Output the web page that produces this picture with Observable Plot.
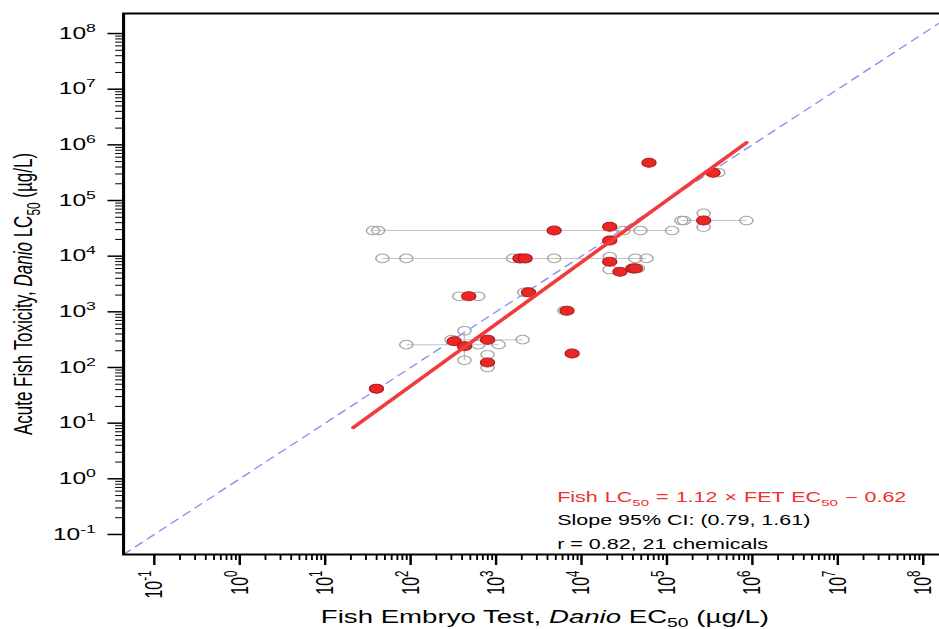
<!DOCTYPE html>
<html><head><meta charset="utf-8">
<script src="https://cdn.jsdelivr.net/npm/d3@7"></script>
<script src="https://cdn.jsdelivr.net/npm/@observablehq/plot@0.6"></script>
<style>
html,body{margin:0;padding:0;background:#fff;overflow:hidden;}
#wrap{width:939px;height:629px;overflow:hidden;position:relative;}
#wrap svg{display:block;transform:scaleX(1.535);transform-origin:0 0;max-width:none !important;}
</style></head><body><div id="wrap"></div>
<script>
// ---- data, log10 of µg/L ----
// chemical means (red): FET EC50 and fish LC50
const fetEC50Log  = [1.60, 2.51, 2.63, 2.90, 2.90, 2.68, 3.38, 3.83, 3.89, 3.28, 3.34, 3.68, 4.33, 4.33, 4.33, 4.45, 4.60, 4.63, 4.79, 5.54, 5.43];
const fishLC50Log = [1.62, 2.47, 2.38, 2.50, 2.09, 3.28, 3.35, 3.02, 2.25, 3.96, 3.96, 4.46, 4.53, 4.28, 3.90, 3.72, 3.78, 3.78, 5.68, 5.50, 4.64];
// individual test values (grey open circles)
const indivXLog = [1.56, 1.62, 4.49, 4.69, 5.06,  1.67, 1.95, 3.20, 3.68, 4.33, 4.63, 4.76, 4.33,  5.17, 5.20, 5.93, 5.43, 5.43,  1.95, 2.79, 3.03,  2.48, 3.31,  2.63, 2.63, 2.90, 2.90,  2.57, 2.79, 3.33, 3.80, 5.60, 4.66];
const indivYLog = [4.46, 4.46, 4.46, 4.46, 4.46,  3.96, 3.96, 3.96, 3.96, 3.99, 3.96, 3.96, 3.76,  4.64, 4.64, 4.64, 4.77, 4.52,  2.41, 2.41, 2.41,  2.50, 2.50,  2.66, 2.13, 2.23, 2.00,  3.28, 3.28, 3.35, 3.02, 5.50, 3.78];
// ranges (grey segments)
const rangeX1Log = [1.56, 1.67, 5.17, 1.95, 2.48, 2.63];
const rangeX2Log = [5.06, 4.76, 5.93, 3.03, 3.31, 2.63];
const rangeY1Log = [4.46, 3.96, 4.64, 2.41, 2.50, 2.13];
const rangeY2Log = [4.46, 3.96, 4.64, 2.41, 2.50, 2.66];
// regression line end points
const fitXLog = [1.33, 5.93];
const fitYLog = [0.92, 6.04];
// axis limits and ticks
const axisLimitsLog = [-1.36, 8.36];
const majorExponents = [-1, 0, 1, 2, 3, 4, 5, 6, 7, 8];
const minorMultipliers = [2, 3, 4, 5, 6, 7, 8, 9];
// texts
const xTitleParts = [["Fish Embryo Test, ", ""], ["Danio", "i"], [" EC", ""], ["50", "sub"], [" (µg/L)", ""]];
const yTitleParts = [["Acute Fish Toxicity, ", ""], ["Danio", "i"], [" LC", ""], ["50", "sub"], [" (µg/L)", ""]];
const eqnParts = [["Fish LC", ""], ["50", "sub"], [" = 1.12 × FET EC", ""], ["50", "sub"], [" − 0.62", ""]];
const ciText = "Slope 95% CI: (0.79, 1.61)";
const rText = "r = 0.82, 21 chemicals";

// ---- build tables ----
const P = v => Math.pow(10, v);
const means = fetEC50Log.map((x, i) => ({x: P(x), y: P(fishLC50Log[i])}));
const indiv = indivXLog.map((x, i) => ({x: P(x), y: P(indivYLog[i])}));
const ranges = rangeX1Log.map((x, i) => ({x1: P(x), x2: P(rangeX2Log[i]), y1: P(rangeY1Log[i]), y2: P(rangeY2Log[i])}));
const fit = fitXLog.map((x, i) => ({x: P(x), y: P(fitYLog[i])}));
const lim = axisLimitsLog.map(P);
const majorTicks = majorExponents.map(P);
const minorTicks = [];
majorExponents.slice(0, -1).forEach(e => minorMultipliers.forEach(m => minorTicks.push(m * P(e))));
const expFmt = d => String(Math.round(Math.log10(d)));

const FONT = "'Liberation Sans', Arial, Helvetica, sans-serif";
const svg = Plot.plot({
  width: 626, height: 629,
  marginLeft: 80, marginTop: 13, marginBottom: 75, marginRight: 5,
  style: {fontFamily: FONT, background: "#fff", color: "#000"},
  x: {type: "log", domain: lim, axis: null},
  y: {type: "log", domain: lim, axis: null},
  marks: [
    Plot.line(lim, {x: d => d, y: d => d, stroke: "#9090f4", strokeWidth: 1.2, strokeDasharray: "6,5", clip: true}),
    Plot.link(ranges, {x1: "x1", x2: "x2", y1: "y1", y2: "y2", stroke: "#c4c4c4", strokeWidth: 1}),
    Plot.dot(indiv, {x: "x", y: "y", r: 4.3, stroke: "#a6a6a6", strokeWidth: 1, fill: "none"}),
    Plot.dot(means, {x: "x", y: "y", r: 4.6, fill: "#ea2626", stroke: "#a51a1a", strokeWidth: 0.8}),
    Plot.line(fit, {x: "x", y: "y", stroke: "#f03c3c", strokeWidth: 3}),
    Plot.axisY({ticks: minorTicks, tickSize: 5, tickFormat: () => "", label: null, strokeWidth: 1}),
    Plot.axisY({ticks: majorTicks, tickSize: 10, tickPadding: 8, tickFormat: expFmt, fontSize: 16, label: null, strokeWidth: 1.5}),
    Plot.axisX({ticks: minorTicks, tickSize: 6, tickFormat: () => "", label: null, strokeWidth: 1.2}),
    Plot.axisX({ticks: majorTicks, tickSize: 11, tickPadding: 5, tickRotate: -90, tickFormat: expFmt, fontSize: 16, label: null, strokeWidth: 1.6}),
    Plot.frame({stroke: "#000", strokeWidth: 2})
  ]
});
document.getElementById("wrap").appendChild(svg);

const NS = "http://www.w3.org/2000/svg";
// superscript exponents on tick labels
svg.querySelectorAll('g[aria-label="y-axis tick label"] text, g[aria-label="x-axis tick label"] text').forEach(t => {
  const s = t.textContent;
  if (!s) return;
  t.textContent = "";
  const a = document.createElementNS(NS, "tspan");
  a.textContent = "10";
  t.appendChild(a);
  const b = document.createElementNS(NS, "tspan");
  b.setAttribute("dy", "-7");
  b.setAttribute("style", "font-size:72%");
  b.textContent = s.replace("−", "-");
  t.appendChild(b);
});

function rich(sel, parts, fs, subShift) {
  let shifted = 0;
  parts.forEach(([txt, kind]) => {
    const ts = sel.append("tspan").text(txt);
    if (kind === "i") ts.attr("font-style", "italic");
    if (kind === "sub") {
      ts.attr("font-size", fs * 0.7).attr("dy", fs * subShift);
      shifted = fs * subShift;
    } else if (shifted) {
      ts.attr("dy", -shifted);
      shifted = 0;
    }
  });
}
const s = d3.select(svg);
const xt = s.append("text").attr("x", 355).attr("y", 623).attr("text-anchor", "middle")
  .attr("font-size", 18).attr("font-family", FONT).attr("fill", "#000");
rich(xt, xTitleParts, 18, 0.25);
const yt = s.append("text").attr("transform", "translate(21,294) rotate(-90)").attr("text-anchor", "middle")
  .attr("font-size", 17).attr("font-family", FONT).attr("fill", "#000");
rich(yt, yTitleParts, 17, 0.3);
const e1 = s.append("text").attr("x", 363).attr("y", 502).attr("text-anchor", "start").attr("font-size", 14)
  .attr("font-family", FONT).attr("fill", "#ee3030").attr("word-spacing", 0.7);
rich(e1, eqnParts, 14, 0.3);
s.append("text").attr("x", 363).attr("y", 525.5).attr("text-anchor", "start").attr("font-size", 14)
  .attr("font-family", FONT).attr("fill", "#000").text(ciText);
s.append("text").attr("x", 363).attr("y", 549).attr("text-anchor", "start").attr("font-size", 14)
  .attr("font-family", FONT).attr("fill", "#000").text(rText);
</script></body></html>
